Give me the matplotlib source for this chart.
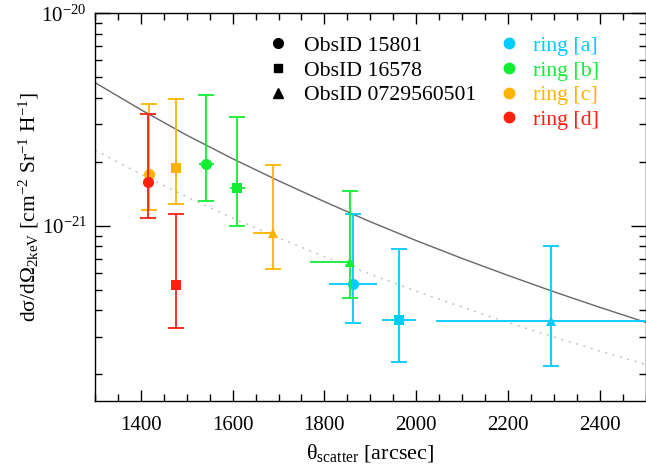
import matplotlib
matplotlib.use("Agg")
import matplotlib.pyplot as plt
from matplotlib.lines import Line2D
from matplotlib.ticker import LogLocator, MultipleLocator, NullFormatter, LogFormatterMathtext, FixedLocator
import numpy as np

plt.rcParams['font.family'] = ['Liberation Serif', 'DejaVu Serif']
plt.rcParams['mathtext.fontset'] = 'custom'
plt.rcParams['mathtext.rm'] = 'Liberation Serif'
plt.rcParams['mathtext.it'] = 'Liberation Serif:italic'
plt.rcParams['mathtext.bf'] = 'Liberation Serif:bold'

# ---------------- data ----------------
ring_names = ['ring [a]', 'ring [b]', 'ring [c]', 'ring [d]']
ring_colors = ['#00CCFF', '#11EE33', '#FFB300', '#FF1F0F']
obs_names = ['ObsID 15801', 'ObsID 16578', 'ObsID 0729560501']
obs_markers = ['o', 's', '^']

# per point: ring index, obs index
pt_ring = [0, 0, 0, 1, 1, 1, 2, 2, 2, 3, 3]
pt_obs = [0, 1, 2, 0, 1, 2, 0, 1, 2, 0, 1]
pt_theta = [1863, 1963, 2294, 1543, 1610, 1856, 1418, 1476, 1687, 1416, 1476]
pt_value = [5.32e-22, 3.60e-22, 3.55e-22, 1.96e-21, 1.50e-21, 6.79e-22,
            1.76e-21, 1.87e-21, 9.30e-22, 1.61e-21, 5.26e-22]
pt_low = [3.49e-22, 2.29e-22, 2.20e-22, 1.31e-21, 1.00e-21, 4.57e-22,
          1.185e-21, 1.27e-21, 6.25e-22, 1.087e-21, 3.30e-22]
pt_high = [1.135e-21, 7.77e-22, 8.03e-22, 4.13e-21, 3.24e-21, 1.455e-21,
           3.76e-21, 3.94e-21, 1.935e-21, 3.35e-21, 1.135e-21]
pt_xerr_left = [52, 37, 250, 16, 16, 88, 0, 0, 42, 0, 0]
pt_xerr_right = [52, 37, 250, 16, 16, 0, 0, 0, 0, 0, 0]

# model curves
curve_theta = [1300, 1400, 1500, 1600, 1700, 1800, 1900, 2000, 2100, 2200, 2300, 2400, 2500]
curve_solid = [4.72e-21, 3.52e-21, 2.67e-21, 2.07e-21, 1.63e-21, 1.30e-21, 1.046e-21,
               8.53e-22, 7.03e-22, 5.85e-22, 4.90e-22, 4.14e-22, 3.52e-22]
curve_dotted = [2.275e-21, 1.749e-21, 1.369e-21, 1.089e-21, 8.78e-22, 7.17e-22, 5.92e-22,
                4.93e-22, 4.15e-22, 3.51e-22, 3.00e-22, 2.58e-22, 2.23e-22]

y_major_ticks = [1e-21, 1e-20]

# ---------------- figure ----------------
W, H = 646, 466
fig = plt.figure(figsize=(W / 100, H / 100), dpi=100)
ax = fig.add_axes([95 / W, 1 - 401 / H, (645.5 - 95) / W, (401 - 13.3) / H])

ax.plot(curve_theta, curve_solid, color='#666666', lw=1.0, zorder=1)
ax.plot(curve_theta, curve_dotted, color='#c0c0c0', lw=1.0, linestyle=(0, (1.5, 4)), zorder=1)

msizes = {'o': 8, 's': 6.5, '^': 7.5}
for i in range(len(pt_theta)):
    c = ring_colors[pt_ring[i]]
    m = obs_markers[pt_obs[i]]
    x = pt_theta[i]
    y = pt_value[i]
    z = 3 + pt_ring[i]
    ax.errorbar([x], [y], yerr=[[y - pt_low[i]], [pt_high[i] - y]], fmt='none',
                ecolor=c, elinewidth=1.3, capsize=6, capthick=1.3, zorder=z)
    if pt_xerr_left[i] > 0 or pt_xerr_right[i] > 0:
        ax.errorbar([x], [y], xerr=[[pt_xerr_left[i]], [pt_xerr_right[i]]], fmt='none',
                    ecolor=c, elinewidth=1.3, capsize=0, zorder=z)
    ax.plot([x], [y], marker=m, color=c, markersize=msizes[m], linestyle='none',
            markeredgewidth=0, zorder=z + 0.5)

ax.set_yscale('log')
ax.set_xlim(1300, 2500)
ax.set_ylim(1.5e-22, 1e-20)

ax.xaxis.set_major_locator(MultipleLocator(200))
ax.xaxis.set_minor_locator(MultipleLocator(50))
ax.yaxis.set_major_locator(FixedLocator(y_major_ticks))
ax.yaxis.set_minor_locator(LogLocator(base=10, subs=np.arange(2, 10), numticks=20))
ax.yaxis.set_major_formatter(LogFormatterMathtext())
ax.yaxis.set_minor_formatter(NullFormatter())

ax.tick_params(which='both', direction='in', top=True, right=True, labelsize=15,
               width=1.0, color='black')
ax.tick_params(axis='x', which='major', length=8, pad=11)
ax.tick_params(axis='y', which='major', length=11, pad=6)
ax.tick_params(which='minor', length=5)
for s in ax.spines.values():
    s.set_linewidth(1.0)

ax.set_xlabel(r'$\mathrm{θ_{scatter}}$ [arcsec]', fontsize=16, labelpad=5)
ax.set_ylabel(r'dσ/dΩ$_{\mathrm{2keV}}$ [cm$^{-2}$ Sr$^{-1}$ H$^{-1}$]', fontsize=15.5)
ax.yaxis.set_label_coords(-0.098, 0.5)

# legends
h1 = [Line2D([], [], marker=m, color='black', linestyle='none',
             markersize={'o': 7, 's': 5.5, '^': 6.5}[m]) for m in obs_markers]
leg1 = ax.legend(h1, obs_names, loc='upper left', bbox_to_anchor=(0.3135, 0.942),
                 frameon=False, fontsize=15.7, handlelength=1.0, handletextpad=0.65,
                 labelspacing=0.2, borderpad=0, borderaxespad=0)
ax.add_artist(leg1)
h2 = [Line2D([], [], marker='o', color=c, linestyle='none', markersize=7.5)
      for c in ring_colors]
ax.legend(h2, ring_names, loc='upper left', bbox_to_anchor=(0.733, 0.942),
          frameon=False, fontsize=15.7, handlelength=1.0, handletextpad=0.6,
          labelspacing=0.2, borderpad=0, borderaxespad=0, labelcolor=ring_colors)

fig.savefig('out.png', dpi=100)
